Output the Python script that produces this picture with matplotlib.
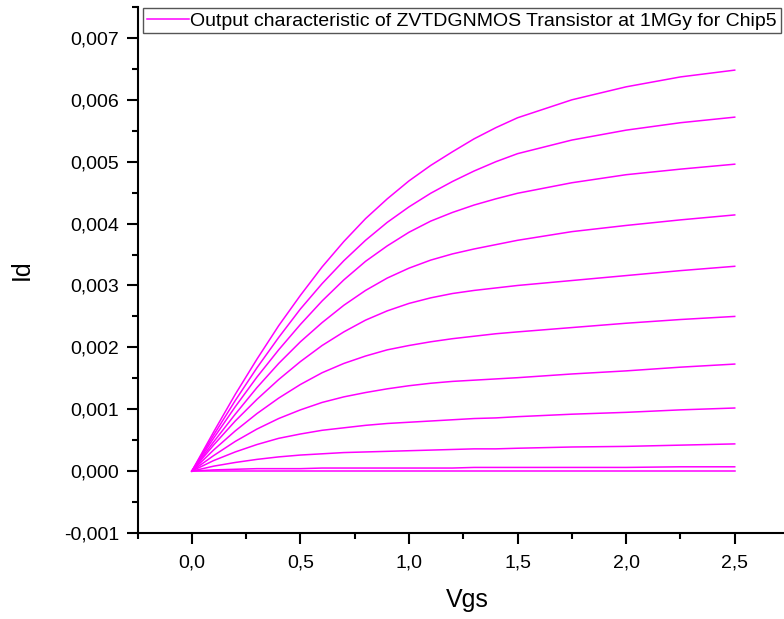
import matplotlib
matplotlib.use("Agg")
from matplotlib import pyplot as plt
from matplotlib.ticker import FuncFormatter, MultipleLocator

plt.rcParams['font.family'] = ['Liberation Sans', 'DejaVu Sans']

# drain voltage sweep (V)
vgs = [0.0, 0.1, 0.2, 0.3, 0.4, 0.5, 0.6, 0.7, 0.8, 0.9, 1.0,
       1.1, 1.2, 1.3, 1.4, 1.5, 1.75, 2.0, 2.25, 2.5]

# drain current (A), one list per gate step, highest first
id_1 = [0.0, 0.00063, 0.00124, 0.00181, 0.00235, 0.00284, 0.00330, 0.00371, 0.00408, 0.00440,
        0.00469, 0.00494, 0.00516, 0.00537, 0.00555, 0.00571, 0.00600, 0.00621, 0.00637, 0.00648]
id_2 = [0.0, 0.00058, 0.00114, 0.00167, 0.00216, 0.00262, 0.00303, 0.00340, 0.00373, 0.00402,
        0.00427, 0.00449, 0.00468, 0.00485, 0.00500, 0.00513, 0.00535, 0.00551, 0.00563, 0.00572]
id_3 = [0.0, 0.00053, 0.00104, 0.00152, 0.00196, 0.00237, 0.00275, 0.00309, 0.00339, 0.00364,
        0.00386, 0.00404, 0.00418, 0.00430, 0.00440, 0.00449, 0.00466, 0.00479, 0.00488, 0.00496]
id_4 = [0.0, 0.00047, 0.00092, 0.00135, 0.00174, 0.00209, 0.00240, 0.00268, 0.00292, 0.00312,
        0.00328, 0.00341, 0.00351, 0.00359, 0.00366, 0.00373, 0.00387, 0.00397, 0.00406, 0.00414]
id_5 = [0.0, 0.00042, 0.00081, 0.00116, 0.00148, 0.00177, 0.00203, 0.00225, 0.00244, 0.00259,
        0.00271, 0.00280, 0.00287, 0.00292, 0.00296, 0.00300, 0.00308, 0.00316, 0.00324, 0.00331]
id_6 = [0.0, 0.00034, 0.00065, 0.00093, 0.00118, 0.00140, 0.00159, 0.00174, 0.00186, 0.00196,
        0.00203, 0.00209, 0.00214, 0.00218, 0.00222, 0.00225, 0.00232, 0.00239, 0.00245, 0.00250]
id_7 = [0.0, 0.00025, 0.00048, 0.00068, 0.00085, 0.00099, 0.00111, 0.00120, 0.00127, 0.00133,
        0.00138, 0.00142, 0.00145, 0.00147, 0.00149, 0.00151, 0.00157, 0.00162, 0.00168, 0.00173]
id_8 = [0.0, 0.00017, 0.00031, 0.00043, 0.00053, 0.00060, 0.00066, 0.00070, 0.00074, 0.00077,
        0.00079, 0.00081, 0.00083, 0.00085, 0.00086, 0.00088, 0.00092, 0.00095, 0.00099, 0.00102]
id_9 = [0.0, 0.00008, 0.00014, 0.00019, 0.00023, 0.00026, 0.00028, 0.00030, 0.00031, 0.00032,
        0.00033, 0.00034, 0.00035, 0.00036, 0.00036, 0.00037, 0.00039, 0.00040, 0.00042, 0.00044]
id_10 = [0.0, 0.00002, 0.00003, 0.00004, 0.00004, 0.00004, 0.00005, 0.00005, 0.00005, 0.00005,
         0.00005, 0.00005, 0.00005, 0.00006, 0.00006, 0.00006, 0.00006, 0.00006, 0.00007, 0.00007]
id_11 = [0.0] * 20

curves = [id_1, id_2, id_3, id_4, id_5, id_6, id_7, id_8, id_9, id_10, id_11]
legend_label = "Output characteristic of ZVTDGNMOS Transistor at 1MGy for Chip5"

fig = plt.figure(figsize=(7.84, 6.19), dpi=100)
ax = fig.add_axes([0.1754, 0.1389, 0.831, 0.8498])

for i, cur in enumerate(curves):
    ax.plot(vgs, cur, color='#ff00ff', lw=1.1,
            label=legend_label if i == 0 else None)

ax.set_xlim(-0.25, 2.75)
ax.set_ylim(-0.001, 0.0075)

ax.xaxis.set_major_locator(MultipleLocator(0.5))
ax.xaxis.set_minor_locator(MultipleLocator(0.25))
ax.yaxis.set_major_locator(MultipleLocator(0.001))
ax.yaxis.set_minor_locator(MultipleLocator(0.0005))
ax.xaxis.set_major_formatter(FuncFormatter(lambda v, p: ("%.1f" % v).replace('.', ',')))
ax.yaxis.set_major_formatter(FuncFormatter(lambda v, p: ("%.3f" % v).replace('.', ',')))

ax.spines['top'].set_visible(False)
ax.spines['right'].set_visible(False)
ax.spines['left'].set_linewidth(1.5)
ax.spines['bottom'].set_linewidth(1.5)
ax.tick_params(which='major', direction='out', length=8, width=1.5, labelsize=14)
ax.tick_params(which='minor', direction='out', length=4.5, width=1.5)
ax.tick_params(axis='x', which='major', pad=7.5)
ax.tick_params(axis='y', which='major', pad=5)

ax.set_xlabel("Vgs", fontsize=18)
ax.set_ylabel("Id", fontsize=18)
ax.xaxis.set_label_coords(0.507, -0.105)
ax.yaxis.set_label_coords(-0.16, 0.5)

leg = ax.legend(loc='upper left', bbox_to_anchor=(0.008, 0.998), fontsize=14,
                handlelength=2.2, handletextpad=0.05, borderpad=0.2,
                borderaxespad=0.0, fancybox=False, framealpha=1)
leg.get_frame().set_edgecolor('#555555')
leg.get_frame().set_linewidth(1.0)

fig.savefig("out.png", dpi=100)
